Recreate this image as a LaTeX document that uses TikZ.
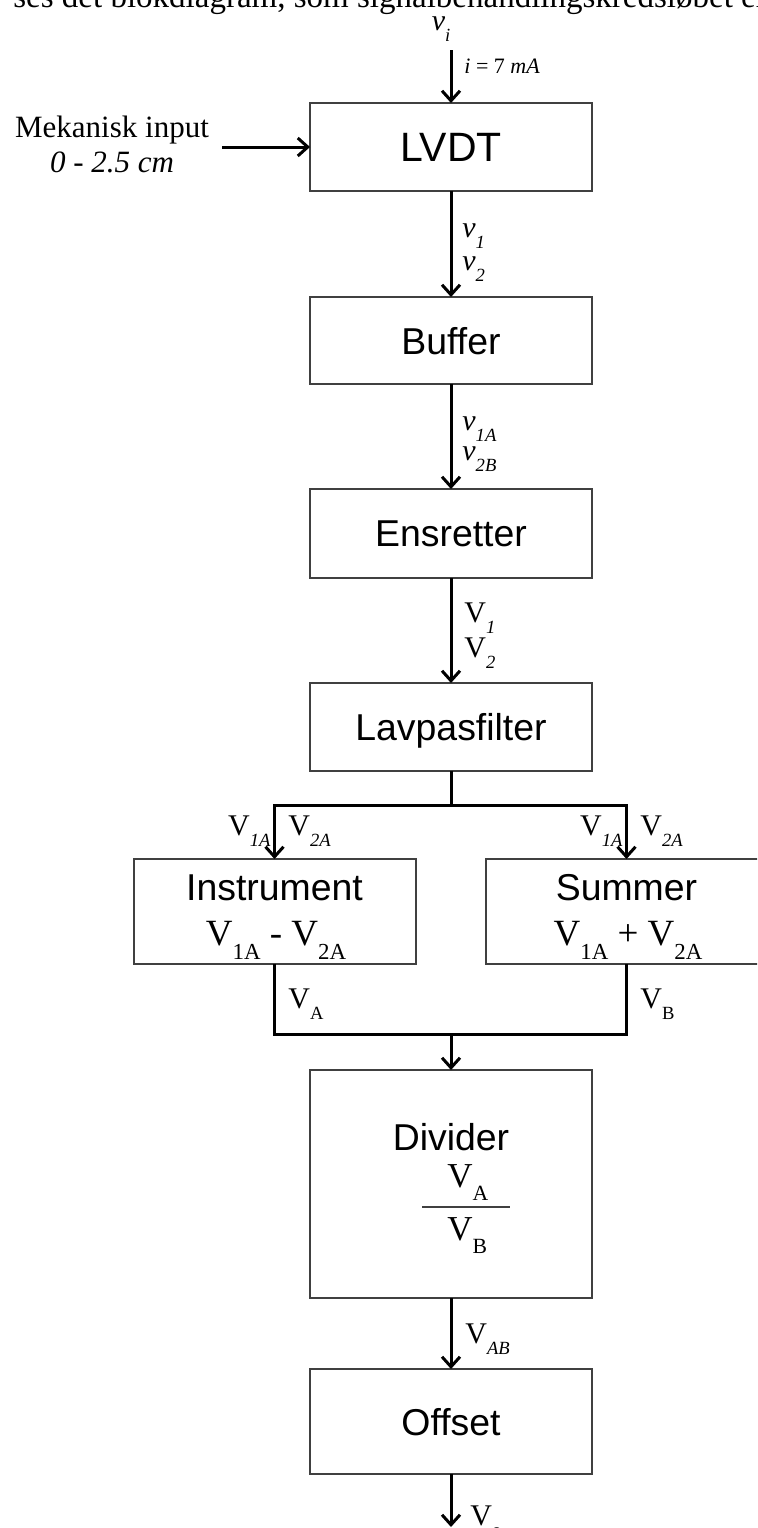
\documentclass[tikz,border=0pt]{standalone}
\usepackage{fontspec}
\setmainfont{Liberation Serif}
\newfontfamily\arialf{Liberation Sans}
\usetikzlibrary{arrows.meta}
\newcommand{\lsub}[1]{\raisebox{-0.38em}{\scalebox{0.62}{#1}}}
\newcommand{\fsz}[1]{\fontsize{#1}{#1}\selectfont}
\begin{document}
\begin{tikzpicture}[x=0.5pt,y=-0.5pt,
  blk/.style={draw=black!75, line width=1pt, inner sep=0pt, outer sep=0pt,
    minimum width=141pt, text depth=0pt, font=\arialf\fsz{18.7}},
  title/.style={font=\arialf\fsz{18.7}, inner sep=0pt, anchor=base},
  conn/.style={line width=1.5pt, -{Straight Barb[length=5pt,width=9pt,line width=1.5pt]}},
  wire/.style={line width=1.5pt},
  lbl/.style={font=\fsz{15}, inner sep=0pt},
  form/.style={font=\fsz{18.5}, inner sep=0pt, anchor=base},
]
\clip (0,0) rectangle (757,1528);
\fill[white] (0,0) rectangle (757,1528);

% cropped running text at the top
\node[anchor=base west, inner sep=0pt, font=\fsz{16.5}] (toptxt) at (13,7)
  {ses det blokdiagram, som signalbehandlingskredsløbet er};

% blocks
\node[blk, minimum height=44pt, font=\arialf\fsz{20.5}] (lvdt) at (451,147) {LVDT};
\node[blk, minimum height=43.5pt] (buf) at (451,340.5) {Buffer};
\node[blk, minimum height=44.5pt] (ens) at (451,533.5) {Ensretter};
\node[blk, minimum height=44pt] (lav) at (451,727) {Lavpasfilter};
\node[blk, minimum height=52.5pt] (inst) at (274.5,911.5) {};
\node[blk, minimum height=52.5pt] (sum) at (626.5,911.5) {};
\node[blk, minimum height=114pt] (div) at (451,1184) {};
\node[blk, minimum height=52.5pt] (off) at (451,1421.5) {Offset};

% block texts
\node[title] (instT) at (274.5,900) {Instrument};
\node[form] (instF) at (276,945) {V\lsub{1A} - V\lsub{2A}};
\node[title] (sumT) at (626.5,900) {Summer};
\node[form] (sumF) at (628,945) {V\lsub{1A} + V\lsub{2A}};
\node[title] (divT) at (451,1150) {Divider};
\node[form, font=\fsz{17.5}, anchor=base west] (divA) at (447,1187) {V\lsub{A}};
\node[form, font=\fsz{17.5}, anchor=base west] (divB) at (447,1240) {V\lsub{B}};
\draw[line width=0.8pt, black!75] (422,1207) -- (510,1207);

% input
\coordinate (vi) at (451,50);
\node[lbl, anchor=base] (viL) at (441,30) {\textit{v}\lsub{\textit{i}}};
\draw[conn] (vi) -- (lvdt.north);
\node[inner sep=0pt, anchor=base west, font=\fsz{11}] (iL) at (464,73) {\textit{i} = 7 \textit{mA}};

\coordinate (mi) at (222,147);
\node[inner sep=0pt, anchor=base, font=\fsz{15.5}] (mek) at (112,137) {Mekanisk input};
\node[inner sep=0pt, anchor=base, font=\fsz{15.5}] (mek2) at (112,172) {\textit{0 - 2.5 cm}};
\draw[conn] (mi) -- (lvdt.west);

% chain
\draw[conn] (lvdt.south) -- (buf.north);
\node[lbl, anchor=base west] (l1) at (462,237) {\textit{v}\lsub{\textit{1}}};
\node[lbl, anchor=base west] (l2) at (462,270) {\textit{v}\lsub{\textit{2}}};

\draw[conn] (buf.south) -- (ens.north);
\node[lbl, anchor=base west] (l3) at (462,430) {\textit{v}\lsub{\textit{1A}}};
\node[lbl, anchor=base west] (l4) at (462,460) {\textit{v}\lsub{\textit{2B}}};

\draw[conn] (ens.south) -- (lav.north);
\node[lbl, anchor=base west] (l5) at (464,622) {V\lsub{\textit{1}}};
\node[lbl, anchor=base west] (l6) at (464,657) {V\lsub{\textit{2}}};

% branch
\coordinate (br) at (451,805);
\draw[wire] (lav.south) -- (br);
\draw[conn] (br) -| (inst.north);
\draw[conn] (br) -| (sum.north);
\node[lbl, anchor=base east] (b1) at (271,835) {V\lsub{\textit{1A}}};
\node[lbl, anchor=base west] (b2) at (288,835) {V\lsub{\textit{2A}}};
\node[lbl, anchor=base east] (b3) at (623,835) {V\lsub{\textit{1A}}};
\node[lbl, anchor=base west] (b4) at (640,835) {V\lsub{\textit{2A}}};

% merge
\coordinate (mg) at (451,1034);
\draw[wire] (inst.south) |- (mg);
\draw[wire] (sum.south) |- (mg);
\draw[conn] (mg) -- (div.north);
\node[lbl, anchor=base west] (va) at (288,1008) {V\lsub{A}};
\node[lbl, anchor=base west] (vb) at (640,1008) {V\lsub{B}};

% divider -> offset
\draw[conn] (div.south) -- (off.north);
\node[lbl, anchor=base west] (vab) at (465,1343) {V\lsub{\textit{AB}}};

% output
\coordinate (vo) at (451,1527);
\draw[conn] (off.south) -- (vo);
\node[lbl, anchor=base west] (vol) at (470,1525) {V\lsub{o}};
\end{tikzpicture}
\end{document}
